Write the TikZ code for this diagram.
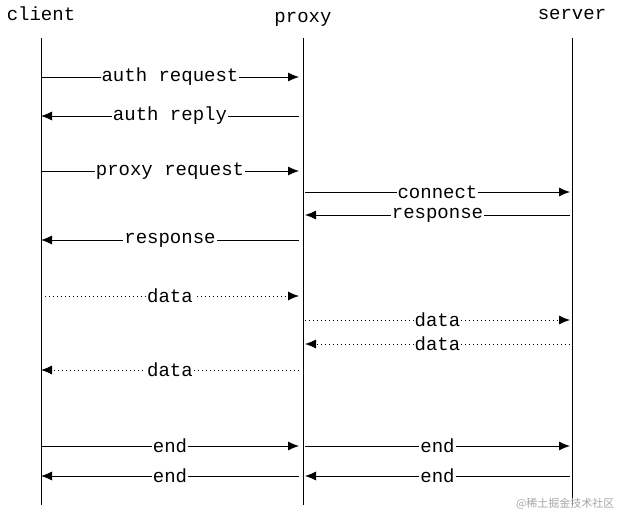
\documentclass[tikz,border=0pt]{standalone}
\usepackage{fontspec}
\setmonofont{Liberation Mono}
\newfontfamily\cjk{Noto Sans CJK SC}
\usetikzlibrary{arrows.meta}
\begin{document}
\begin{tikzpicture}[x=1pt,y=-1pt,
  lbl/.style={font=\fontsize{19}{20}\selectfont\ttfamily,fill=white,inner sep=1pt},
  msg/.style={-{Latex[length=11pt,width=9pt]},line width=0.8pt},
  dmsg/.style={msg,dash pattern=on 1.2pt off 2.8pt},
  life/.style={line width=0.8pt}]
\useasboundingbox (0,0) rectangle (622,516);
\node[lbl,fill=none] (c) at (41,14) {client};
\node[lbl,fill=none] (p) at (303,19) {proxy};
\node[lbl,fill=none] (s) at (572,14) {server};
\foreach \n/\x in {c/41,p/303,s/572}{
  \coordinate (\n t) at (\x,38); \coordinate (\n b) at (\x,505);
  \draw[life] (\n t) -- (\n b);}
\newcommand\msgx[5]{% style, from x, to x, y, label
  \coordinate (A) at (#2,#4); \coordinate (B) at (#3,#4);
  \draw[#1] (A) -- node[lbl]{#5} (B);}
\msgx{msg}{41}{299}{77}{auth request}
\msgx{msg}{299}{41}{116}{auth reply}
\msgx{msg}{41}{299}{171}{proxy request}
\msgx{msg}{305}{570}{192}{connect}
\msgx{msg}{570}{305}{215}{response}
\msgx{msg}{299}{41}{240}{response}
\msgx{dmsg}{41}{299}{296}{data}
\msgx{dmsg}{305}{570}{320}{data}
\msgx{dmsg}{570}{305}{344}{data}
\msgx{dmsg}{299}{41}{370}{data}
\msgx{msg}{41}{299}{446}{end}
\msgx{msg}{305}{570}{446}{end}
\msgx{msg}{299}{41}{476}{end}
\msgx{msg}{570}{305}{476}{end}
\node[font=\cjk\fontsize{11}{12}\selectfont,text=gray!70,anchor=east] (w) at (618,504) {@稀土掘金技术社区};
\end{tikzpicture}
\end{document}
